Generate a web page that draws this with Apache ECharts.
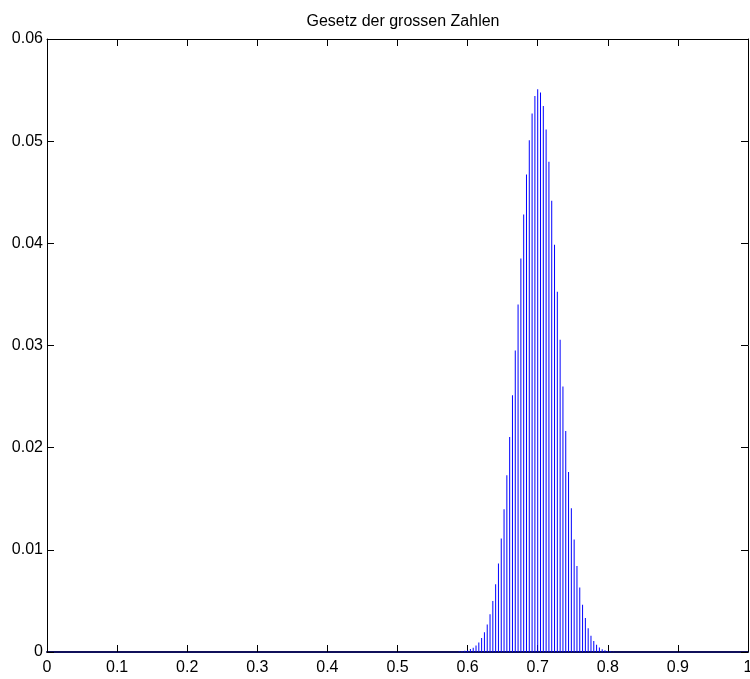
<!DOCTYPE html>
<html>
<head>
<meta charset="utf-8">
<title>Gesetz der grossen Zahlen</title>
<script src="https://cdn.jsdelivr.net/npm/echarts@6/dist/echarts.min.js"></script>
<style>
  html,body{margin:0;padding:0;background:#fff;overflow:hidden;}
  #chart{width:750px;height:679px;}
</style>
</head>
<body>
<div id="chart"></div>
<script>
// ==================== DATA ====================
const titleText = 'Gesetz der grossen Zahlen';
const nTrials = 250;          // stems sit at k/250, k = 0..250
const kStart = 147;           // first k with a visible stem
// stem heights, k = 147 .. 202 (all others ~0)
const probs = [
  0.000045, 0.000073, 0.000116, 0.000182, 0.000282, 0.000428, 0.000640, 0.000940,
  0.001359, 0.001931, 0.002698, 0.003706, 0.005003, 0.006639, 0.008659, 0.01110,
  0.01398, 0.01730, 0.02104, 0.02514, 0.02951, 0.03402, 0.03852, 0.04282,
  0.04674, 0.05009, 0.05270, 0.05442, 0.05508, 0.05477, 0.05343, 0.05113,
  0.04799, 0.04416, 0.03985, 0.03525, 0.03057, 0.02598, 0.02162, 0.01763,
  0.01408, 0.01101, 0.008426, 0.006312, 0.004627, 0.003318, 0.002326, 0.001595,
  0.001069, 0.000700, 0.000447, 0.000280, 0.000171, 0.000102, 0.000059, 0.000034
];
const xTicks = [0, 1, 0.1];     // min, max, step
const yTicks = [0, 0.06, 0.01];

// ==================== CHART ====================
const stems=[];
for(let k=0;k<=nTrials;k++){
  const v = probs[k-kStart];
  stems.push([k/nTrials, v===undefined?0:v]);
}

const font='"Liberation Sans", Arial, Helvetica, sans-serif';
const lbl={color:'#000',fontSize:16,fontFamily:font};
const tick={show:true,inside:true,length:7,lineStyle:{color:'#000',width:1}};

const chart=echarts.init(document.getElementById('chart'),null,{renderer:'canvas',width:750,height:679});
chart.setOption({
  backgroundColor:'#fff',
  animation:false,
  title:{text:titleText,left:398,top:9,textAlign:'center',
    textStyle:{color:'#000',fontSize:16,fontWeight:'normal',fontFamily:font}},
  // outerBoundsMode none: keep the plot box fixed even though the "1" label touches the edge
  grid:{left:47,right:2,top:39,bottom:27,containLabel:false,outerBoundsMode:'none'},
  xAxis:[
    {type:'value',position:'bottom',min:xTicks[0],max:xTicks[1],interval:xTicks[2],
     axisLine:{show:true,onZero:false,lineStyle:{color:'#10105a',width:2}},
     axisTick:tick,splitLine:{show:false},
     axisLabel:Object.assign({margin:8,formatter:v=>String(+v.toFixed(2))},lbl)},
    {type:'value',position:'top',min:xTicks[0],max:xTicks[1],interval:xTicks[2],
     axisLine:{show:true,onZero:false,lineStyle:{color:'#000',width:1}},
     axisTick:tick,splitLine:{show:false},axisLabel:{show:false}}
  ],
  yAxis:[
    {type:'value',position:'left',min:yTicks[0],max:yTicks[1],interval:yTicks[2],
     axisLine:{show:true,onZero:false,lineStyle:{color:'#000',width:1}},
     axisTick:tick,splitLine:{show:false},
     axisLabel:Object.assign({margin:4,formatter:v=>String(+v.toFixed(3))},lbl)},
    {type:'value',position:'right',min:yTicks[0],max:yTicks[1],interval:yTicks[2],
     axisLine:{show:true,onZero:false,lineStyle:{color:'#000',width:1}},
     axisTick:tick,splitLine:{show:false},axisLabel:{show:false}}
  ],
  series:[
    {name:'P',type:'bar',xAxisIndex:0,yAxisIndex:0,data:stems,
     barWidth:1,barGap:'-100%',itemStyle:{color:'#0000ff'},
     emphasis:{disabled:true},z:3}
  ]
});
</script>
</body>
</html>
